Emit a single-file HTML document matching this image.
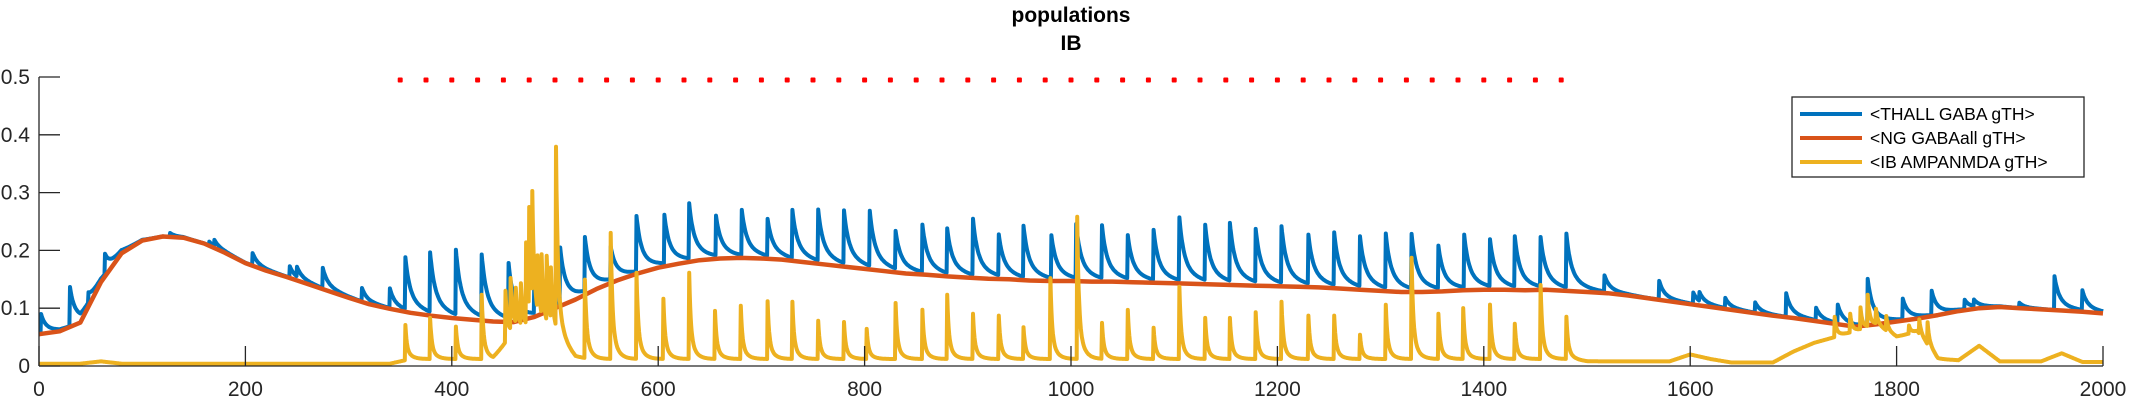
<!DOCTYPE html>
<html><head><meta charset="utf-8"><style>
html,body{margin:0;padding:0;background:#fff;}
svg{display:block;font-family:"Liberation Sans",sans-serif;}
</style></head><body>
<svg id="chart" width="2133" height="400" viewBox="0 0 2133 400" xmlns="http://www.w3.org/2000/svg">
<text x="1071" y="22" font-size="21" font-weight="bold" text-anchor="middle">populations</text>
<text x="1071" y="50" font-size="21" font-weight="bold" text-anchor="middle">IB</text>
<g id="plot"></g>
<g id="axes"></g>
<g>
<rect x="1792" y="97" width="292" height="80" fill="#fff" stroke="#262626" stroke-width="1.3"/>
<line x1="1800" y1="114" x2="1862" y2="114" stroke="#0072BD" stroke-width="4"/>
<text x="1870" y="120" font-size="17.5">&lt;THALL GABA gTH&gt;</text>
<line x1="1800" y1="138" x2="1862" y2="138" stroke="#D95319" stroke-width="4"/>
<text x="1870" y="144" font-size="17.5">&lt;NG GABAall gTH&gt;</text>
<line x1="1800" y1="162" x2="1862" y2="162" stroke="#EDB120" stroke-width="4"/>
<text x="1870" y="168" font-size="17.5">&lt;IB AMPANMDA gTH&gt;</text>
</g>
</svg>
<script>
// ---- data ----
const xTicks = [0, 200, 400, 600, 800, 1000, 1200, 1400, 1600, 1800, 2000];
const yTicks = [0, 0.1, 0.2, 0.3, 0.4, 0.5];
const yTickLabels = ["0", "0.1", "0.2", "0.3", "0.4", "0.5"];
const sampleStep = 20;
const redValues = [0.055,0.06,0.075,0.145,0.195,0.217,0.224,0.222,0.212,0.196,
0.178,0.165,0.154,0.142,0.13,0.118,0.107,0.099,0.092,0.087,
0.083,0.08,0.077,0.076,0.085,0.1,0.115,0.133,0.148,0.16,
0.17,0.177,0.183,0.186,0.187,0.186,0.184,0.18,0.176,0.172,
0.168,0.164,0.16,0.158,0.155,0.153,0.151,0.15,0.148,0.147,
0.147,0.146,0.146,0.145,0.144,0.143,0.142,0.141,0.14,0.139,
0.138,0.137,0.136,0.134,0.132,0.13,0.128,0.128,0.129,0.131,
0.132,0.132,0.131,0.132,0.13,0.128,0.126,0.122,0.117,0.112,
0.107,0.102,0.097,0.092,0.087,0.083,0.078,0.073,0.068,0.072,
0.077,0.082,0.088,0.095,0.1,0.102,0.1,0.098,0.096,0.094,0.091];
const yellowBase = [0.004,0.004,0.004,0.008,0.004,0.004,0.004,0.004,0.004,0.004,
0.004,0.004,0.004,0.004,0.004,0.004,0.004,0.004,0.012,0.012,
0.012,0.012,0.012,0.06,0.06,0.05,0.015,0.012,0.012,0.012,
0.012,0.012,0.012,0.012,0.012,0.012,0.012,0.012,0.012,0.012,
0.012,0.012,0.012,0.012,0.012,0.012,0.012,0.012,0.012,0.012,
0.012,0.012,0.012,0.012,0.012,0.012,0.012,0.012,0.012,0.012,
0.012,0.012,0.012,0.012,0.012,0.012,0.012,0.012,0.012,0.012,
0.012,0.012,0.012,0.012,0.012,0.008,0.008,0.008,0.008,0.008,
0.02,0.012,0.006,0.006,0.006,0.025,0.04,0.05,0.06,0.07,
0.05,0.06,0.012,0.01,0.035,0.008,0.008,0.008,0.022,0.007,0.007];
const blueSpikeTimes = [2,30,48,64,127,165,170,207,243,250,275,313,340,
355,379,404,429,455,480,505,529,554,579,606,630,656,681,706,730,755,780,805,830,856,
880,905,930,954,981,1005,1030,1055,1080,1105,1130,1154,1179,1204,1230,1255,1280,1305,1330,1356,1381,
1406,1430,1455,1480,1517,1570,1603,1609,1634,1663,1693,1722,1743,1772,1806,1834,1866,1875,1919,1953,1980];
const blueSpikePeaks = [0.09,0.135,0.12,0.19,0.23,0.215,0.215,0.195,0.172,0.165,0.168,0.134,0.133,
0.183,0.19,0.194,0.185,0.171,0.15,0.2,0.216,0.2,0.255,0.256,0.275,0.254,0.265,0.249,0.265,0.265,0.263,0.262,0.227,0.24,
0.232,0.249,0.221,0.237,0.221,0.24,0.237,0.22,0.23,0.251,0.237,0.24,0.23,0.235,0.221,0.225,0.218,0.223,0.222,0.202,0.222,
0.213,0.218,0.217,0.223,0.154,0.147,0.126,0.12,0.116,0.109,0.125,0.099,0.104,0.149,0.114,0.128,0.113,0.11,0.109,0.155,0.128];
const yellowSpikeTimes = [60,355,379,404,429,452,457,462,467,472,475,478,483,487,492,496,501,529,554,579,605,630,655,680,706,730,755,780,802,830,856,
880,905,930,954,980,1006,1030,1055,1080,1105,1130,1154,1179,1204,1230,1255,1280,1305,1330,1356,1380,1406,1430,1455,1480,
1740,1755,1765,1772,1780,1790,1812,1822,1830];
const yellowSpikePeaks = [0.008,0.071,0.083,0.068,0.123,0.13,0.14,0.12,0.13,0.2,0.232,0.24,0.15,0.16,0.166,0.14,0.358,0.149,0.23,0.161,0.116,0.161,0.095,0.104,0.112,0.111,0.078,0.076,0.064,0.109,0.097,
0.123,0.09,0.087,0.067,0.152,0.258,0.074,0.097,0.066,0.137,0.083,0.083,0.093,0.111,0.087,0.087,0.054,0.106,0.187,0.09,0.1,0.106,0.073,0.14,0.085,
0.085,0.09,0.1,0.12,0.095,0.085,0.07,0.08,0.074];
const stimTimes = [];
for (let s = 350; s <= 1475; s += 25) stimTimes.push(s);

// ---- axes ----
const X0 = 39, X1 = 2103, Y0 = 366, Y1 = 77;
const xScale = t => X0 + (t / 2000) * (X1 - X0);
const yScale = v => Y0 - (v / 0.5) * (Y0 - Y1);
const NS = "http://www.w3.org/2000/svg";
const plot = document.getElementById('plot');
const axes = document.getElementById('axes');
function mk(tag, attrs, parent) {
  const el = document.createElementNS(NS, tag);
  for (const k in attrs) el.setAttribute(k, attrs[k]);
  parent.appendChild(el);
  return el;
}
function baseAt(arr, t) {
  const i = Math.min(Math.floor(t / sampleStep), arr.length - 2);
  const f = t / sampleStep - i;
  return arr[i] * (1 - f) + arr[i + 1] * f;
}
function seriesBlue(t) {
  const r = baseAt(redValues, t);
  let v = r;
  for (let k = 0; k < blueSpikeTimes.length; k++) {
    const dt = t - blueSpikeTimes[k];
    if (dt < 0 || dt > 120) continue;
    const amp = Math.max(0, blueSpikePeaks[k] - baseAt(redValues, blueSpikeTimes[k]));
    v += amp * (0.65 * Math.exp(-dt / 4) + 0.35 * Math.exp(-dt / 14));
  }
  return v;
}
function seriesYellow(t) {
  let v = baseAt(yellowBase, t);
  for (let k = 0; k < yellowSpikeTimes.length; k++) {
    const dt = t - yellowSpikeTimes[k];
    if (dt < 0 || dt > 60) continue;
    const amp = Math.max(0, yellowSpikePeaks[k] - baseAt(yellowBase, yellowSpikeTimes[k]));
    v += amp * (0.7 * Math.exp(-dt / 1.5) + 0.3 * Math.exp(-dt / 5));
  }
  return v;
}
function pathFrom(fn) {
  let d = '';
  for (let t = 0; t <= 2000; t += 0.5) {
    d += (t === 0 ? 'M' : 'L') + xScale(t).toFixed(1) + ',' + yScale(fn(t)).toFixed(1);
  }
  return d;
}
let redD = '';
redValues.forEach((v, i) => { redD += (i === 0 ? 'M' : 'L') + xScale(i * sampleStep).toFixed(1) + ',' + yScale(v).toFixed(1); });

const pb = mk('path', {d: pathFrom(seriesBlue), fill: 'none', stroke: '#0072BD', 'stroke-width': 4, 'stroke-linejoin': 'round'}, plot);


const pr = mk('path', {d: redD, fill: 'none', stroke: '#D95319', 'stroke-width': 4.5, 'stroke-linejoin': 'round'}, plot);


const py = mk('path', {d: pathFrom(seriesYellow), fill: 'none', stroke: '#EDB120', 'stroke-width': 4, 'stroke-linejoin': 'round'}, plot);



stimTimes.forEach(s => {
  const r = mk('rect', {x: xScale(s) - 2.5, y: 77.5, width: 5, height: 5, rx: 1, fill: '#FF0000'}, plot);
  
  
});

// axis lines
const yl = mk('line', {x1: X0, y1: Y1, x2: X0, y2: Y0, stroke: '#262626', 'stroke-width': 1.3}, axes);


const xl = mk('line', {x1: X0, y1: Y0, x2: X1, y2: Y0, stroke: '#262626', 'stroke-width': 1.3}, axes);


xTicks.forEach(t => {
  const tk = mk('line', {x1: xScale(t), y1: Y0, x2: xScale(t), y2: Y0 - 20, stroke: '#262626', 'stroke-width': 1.3}, axes);
  
  
  const lb = mk('text', {x: xScale(t), y: 396, 'font-size': 21, 'text-anchor': 'middle', fill: '#262626'}, axes);
  lb.textContent = String(t);
  
  
});
yTicks.forEach((v, i) => {
  const tk = mk('line', {x1: X0, y1: yScale(v), x2: X0 + 21, y2: yScale(v), stroke: '#262626', 'stroke-width': 1.3}, axes);
  
  
  const lb = mk('text', {x: 30, y: yScale(v) + 7, 'font-size': 21, 'text-anchor': 'end', fill: '#262626'}, axes);
  lb.textContent = yTickLabels[i];
  
  
});
</script>
</body></html>
